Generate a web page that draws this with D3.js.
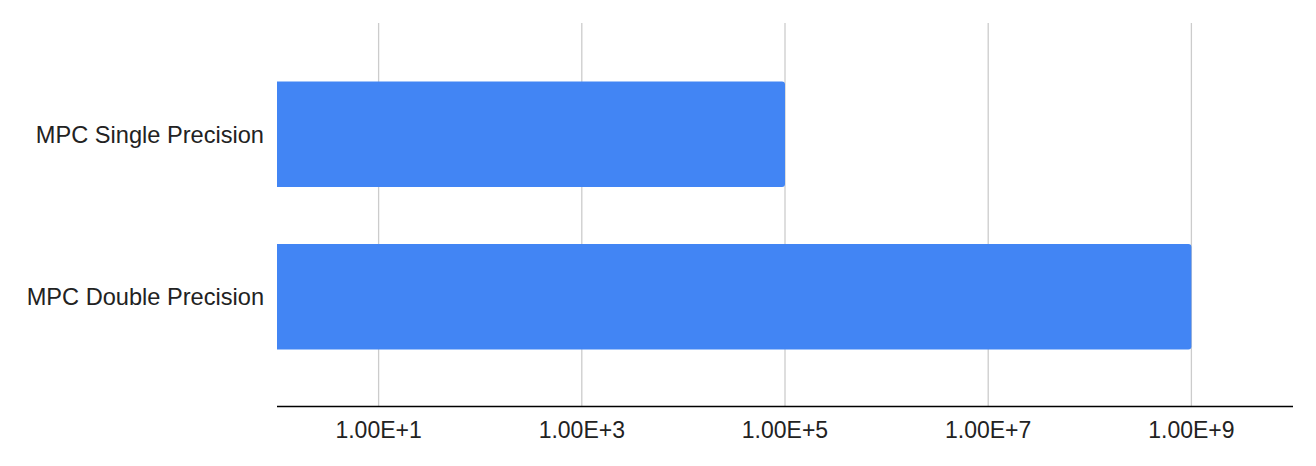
<!DOCTYPE html>
<html lang="en">
<head>
    <meta charset="UTF-8">
    <title>MPC Precision</title>
    <script src="https://d3js.org/d3.v7.min.js"></script>
    <style>
        body {
            margin: 0;
            background: #fff;
            font-family: "Liberation Sans", Arial, sans-serif;
        }
        svg { display: block; }
    </style>
</head>
<body>
    <svg id="chart"></svg>

    <script>
        const categories = ['MPC Single Precision', 'MPC Double Precision'];
        const values = [1e5, 1e9];
        const tickValues = [1e1, 1e3, 1e5, 1e7, 1e9];
        const tickLabels = ['1.00E+1', '1.00E+3', '1.00E+5', '1.00E+7', '1.00E+9'];

        const width = 1316;
        const height = 466;
        const margin = { top: 23, right: 23, bottom: 59.5, left: 277 };
        const plotBottom = height - margin.bottom;

        const svg = d3.select('#chart')
            .attr('width', width)
            .attr('height', height);

        const x = d3.scaleLog()
            .domain([1, 1e10])
            .range([margin.left, width - margin.right]);

        const y = d3.scaleBand()
            .domain(categories)
            .range([margin.top, 408])
            .paddingInner(0.35)
            .paddingOuter(0.36);

        // gridlines
        svg.append('g')
            .selectAll('line')
            .data(tickValues)
            .join('line')
            .attr('x1', d => x(d))
            .attr('x2', d => x(d))
            .attr('y1', margin.top)
            .attr('y2', plotBottom)
            .attr('stroke', '#cccccc')
            .attr('stroke-width', 1.3);

        // bars, rounded on the right end only
        const r = 3;
        svg.append('g')
            .selectAll('path')
            .data(categories)
            .join('path')
            .attr('fill', '#4285f4')
            .attr('d', (c, i) => {
                const x0 = x(1), x1 = x(values[i]);
                const y0 = y(c), y1 = y(c) + y.bandwidth();
                return `M${x0},${y0} H${x1 - r} Q${x1},${y0} ${x1},${y0 + r}` +
                       ` V${y1 - r} Q${x1},${y1} ${x1 - r},${y1} H${x0} Z`;
            });

        // category labels
        svg.append('g')
            .selectAll('text')
            .data(categories)
            .join('text')
            .attr('x', 264)
            .attr('y', d => y(d) + y.bandwidth() / 2)
            .attr('dy', '0.35em')
            .attr('text-anchor', 'end')
            .attr('font-size', '23.6px')
            .attr('fill', '#222')
            .text(d => d);

        // x axis
        svg.append('line')
            .attr('x1', margin.left)
            .attr('x2', width - margin.right)
            .attr('y1', plotBottom)
            .attr('y2', plotBottom)
            .attr('stroke', '#000')
            .attr('stroke-width', 1.4);

        svg.append('g')
            .selectAll('text')
            .data(tickValues)
            .join('text')
            .attr('x', d => x(d))
            .attr('y', 438)
            .attr('text-anchor', 'middle')
            .attr('font-size', '23px')
            .attr('fill', '#222')
            .text((d, i) => tickLabels[i]);
    </script>
</body>
</html>
